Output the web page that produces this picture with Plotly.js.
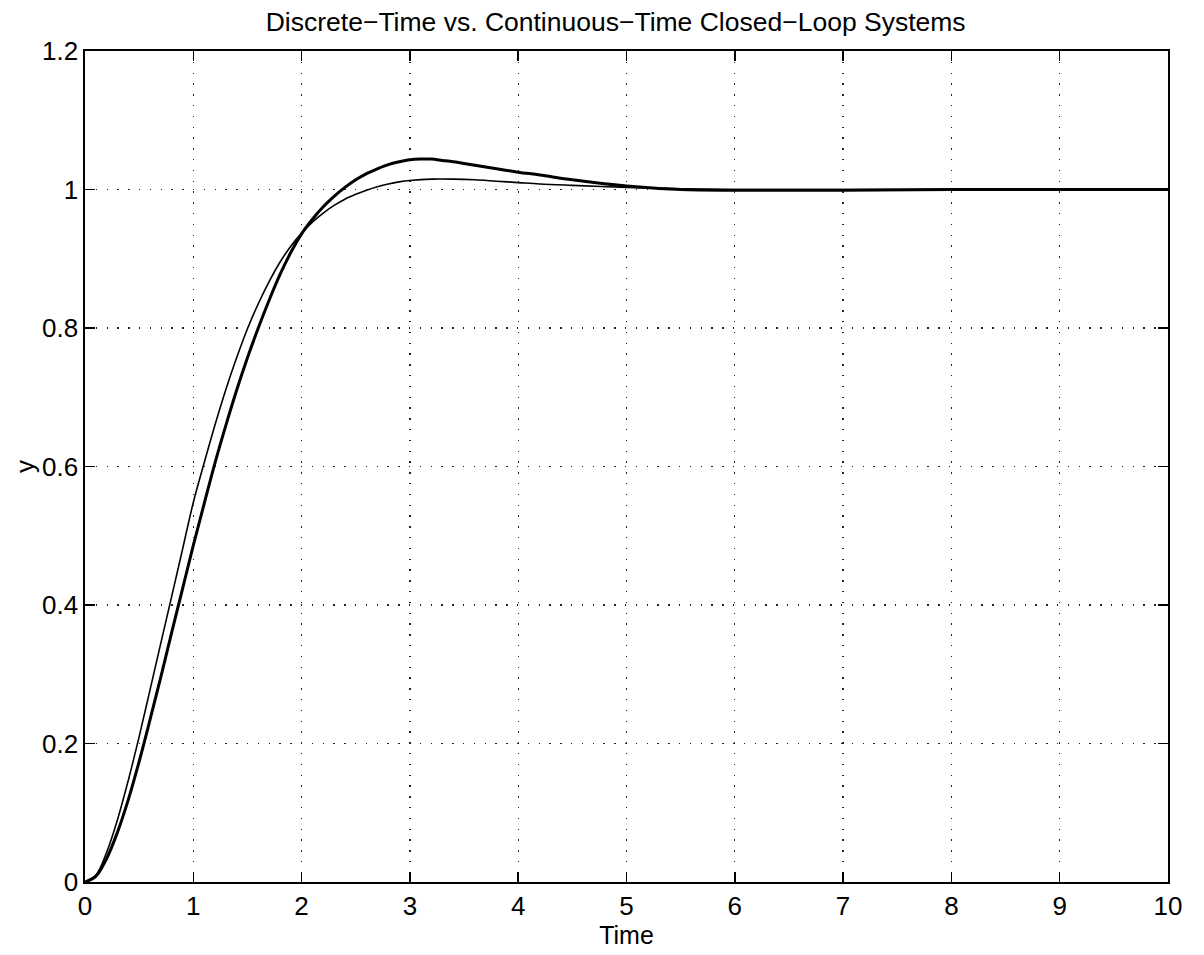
<!DOCTYPE html>
<html>
<head>
<meta charset="utf-8">
<script src="https://cdn.plot.ly/plotly-3.0.1.min.js"></script>
<style>html,body{margin:0;padding:0;background:#fff;}#chart{width:1204px;height:955px;}</style>
</head>
<body>
<div id="chart"></div>
<script>
// Continuous-time closed-loop step response (thin line)
const tCont = [0,0.1,0.2,0.3,0.4,0.5,0.6,0.7,0.8,0.9,1.0,1.1,1.2,1.3,1.4,1.5,1.6,1.7,1.8,1.9,2.0,2.1,2.2,2.3,2.4,2.5,2.6,2.7,2.8,2.9,3.0,3.2,3.4,3.6,3.8,4.0,4.2,4.5,5.0,5.5,6.0,7.0,8.0,9.0,10.0];
const yCont = [0,0.010,0.043,0.090,0.147,0.210,0.277,0.345,0.412,0.480,0.548,0.605,0.660,0.711,0.757,0.799,0.835,0.867,0.895,0.918,0.937,0.953,0.966,0.977,0.986,0.993,0.999,1.004,1.008,1.011,1.013,1.015,1.015,1.014,1.012,1.010,1.008,1.006,1.003,1.001,1.000,1.000,1.000,1.000,1.000];
// Discrete-time closed-loop step response (thick line)
const tDisc = [0,0.1,0.2,0.3,0.4,0.5,0.6,0.7,0.8,0.9,1.0,1.1,1.2,1.3,1.4,1.5,1.6,1.7,1.8,1.9,2.0,2.1,2.2,2.3,2.4,2.5,2.6,2.7,2.8,2.9,3.0,3.1,3.2,3.3,3.4,3.6,3.8,4.0,4.2,4.5,5.0,5.5,6.0,6.5,7.0,8.0,9.0,10.0];
const yDisc = [0,0.008,0.034,0.072,0.119,0.174,0.234,0.296,0.360,0.423,0.486,0.546,0.605,0.659,0.710,0.757,0.800,0.840,0.877,0.909,0.936,0.957,0.975,0.990,1.003,1.014,1.023,1.030,1.036,1.040,1.043,1.044,1.044,1.042,1.040,1.035,1.030,1.025,1.021,1.014,1.005,1.000,0.999,0.999,0.999,1.000,1.000,1.000];

const xTicks = [0,1,2,3,4,5,6,7,8,9,10];
const yTicks = [0,0.2,0.4,0.6,0.8,1,1.2];
const yTickText = ['0','0.2','0.4','0.6','0.8','1','1.2'];

const font = 'Liberation Sans, Arial, Helvetica, sans-serif';

const traces = [
  {x: tCont, y: yCont, type: 'scatter', mode: 'lines', line: {color: '#000', width: 1.6, shape: 'spline', smoothing: 1}, showlegend: false, hoverinfo: 'skip'},
  {x: tDisc, y: yDisc, type: 'scatter', mode: 'lines', line: {color: '#000', width: 3, shape: 'spline', smoothing: 1}, showlegend: false, hoverinfo: 'skip'}
];

const axisCommon = {
  showgrid: true, gridcolor: '#222', gridwidth: 1.3, griddash: '1.3px,9.5px',
  zeroline: false, showline: true, linecolor: '#000', linewidth: 1.6, mirror: 'allticks',
  ticks: 'inside', ticklen: 10, tickwidth: 1.6, tickcolor: '#000',
  tickfont: {family: font, size: 26, color: '#000'}
};

const layout = {
  width: 1204, height: 955,
  margin: {l: 85, r: 36, t: 51, b: 73},
  paper_bgcolor: '#fff', plot_bgcolor: '#fff',
  title: {text: 'Discrete\u2212Time vs. Continuous\u2212Time Closed\u2212Loop Systems', font: {family: font, size: 26.5, color: '#000'}, xref: 'paper', x: 0.49, xanchor: 'center', yref: 'container', y: 0.977, yanchor: 'middle'},
  xaxis: Object.assign({}, axisCommon, {range: [0, 10], tickvals: xTicks, ticktext: xTicks.map(String), title: {text: 'Time', font: {family: font, size: 25, color: '#000'}, standoff: 2}}),
  yaxis: Object.assign({}, axisCommon, {range: [0, 1.2], tickvals: yTicks, ticktext: yTickText, title: {text: 'y', font: {family: font, size: 26, color: '#000'}, standoff: 0}})
};

Plotly.newPlot('chart', traces, layout, {displayModeBar: false, staticPlot: true});
</script>
</body>
</html>
